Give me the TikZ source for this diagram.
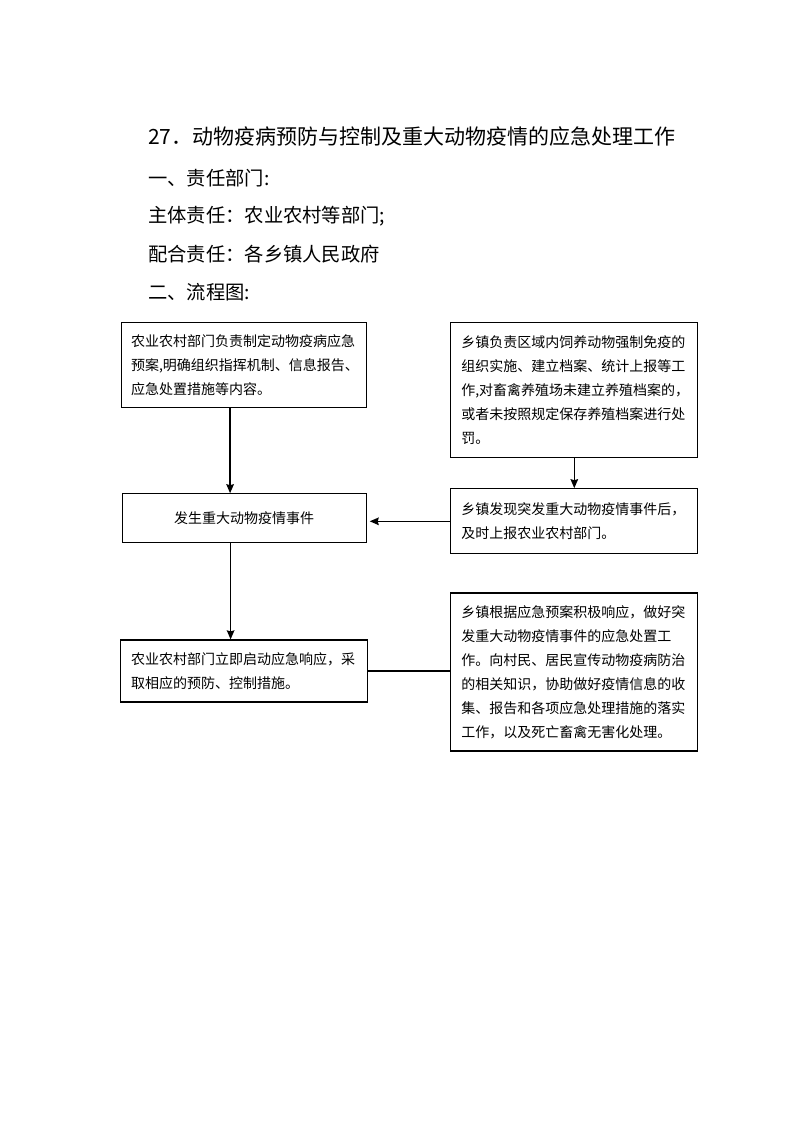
\documentclass[tikz,border=0pt]{standalone}
\usepackage{fontspec}
\newfontfamily\cjk{Noto Sans CJK SC}
\usetikzlibrary{positioning, arrows.meta}

\begin{document}
\begin{tikzpicture}[
    x=1pt, y=-1pt,
    >=Stealth,
    titletext/.style={
        anchor=west,
        inner sep=0pt,
        font=\cjk\fontsize{21}{24}\selectfont
    },
    heading/.style={
        anchor=west,
        inner sep=0pt,
        font=\cjk\fontsize{19.3}{23}\selectfont
    },
    stepbox/.style={
        draw,
        rectangle,
        line width=1.2pt,
        text width=226pt,
        inner xsep=9pt,
        align=left,
        font=\cjk\fontsize{14}{24}\selectfont
    },
    arrow/.style={-{Stealth[length=9pt, width=7.5pt, inset=1pt]}, line width=1.6pt},
    link/.style={line width=1.2pt}
]

\useasboundingbox (0,0) rectangle (794,1122);

% Title and responsibilities
\node[titletext] (title) at (148,137) {27．动物疫病预防与控制及重大动物疫情的应急处理工作};
\node[heading] (dept) at (148,178) {一、责任部门:};
\node[heading] (main) at (148,216) {主体责任：农业农村等部门;};
\node[heading] (assist) at (148,254) {配合责任：各乡镇人民政府};
\node[heading] (flow) at (148,292) {二、流程图:};

% Left column
\node[stepbox, minimum width=245pt, minimum height=85pt, anchor=north west] (plan) at (121,322) {%
    农业农村部门负责制定动物疫病应急\\
    预案,明确组织指挥机制、信息报告、\\
    应急处置措施等内容。
};

\node[stepbox, align=center, minimum width=244pt, minimum height=49pt, below=85pt of plan] (event) {%
    发生重大动物疫情事件
};

\node[stepbox, minimum width=247pt, minimum height=62pt, below=96pt of event] (respond) {%
    农业农村部门立即启动应急响应，采\\
    取相应的预防、控制措施。
};

% Right column
\node[stepbox, minimum width=247pt, minimum height=135pt, right=83pt of plan.north east, anchor=north west] (immune) {%
    乡镇负责区域内饲养动物强制免疫的\\
    组织实施、建立档案、统计上报等工\\
    作,对畜禽养殖场未建立养殖档案的，\\
    或者未按照规定保存养殖档案进行处\\
    罚。
};

\node[stepbox, minimum width=247pt, minimum height=65pt, below=30pt of immune] (report) {%
    乡镇发现突发重大动物疫情事件后，\\
    及时上报农业农村部门。
};

\node[stepbox, minimum width=247pt, minimum height=158pt, below=38pt of report] (town) {%
    乡镇根据应急预案积极响应，做好突\\
    发重大动物疫情事件的应急处置工\\
    作。向村民、居民宣传动物疫病防治\\
    的相关知识，协助做好疫情信息的收\\
    集、报告和各项应急处理措施的落实\\
    工作，以及死亡畜禽无害化处理。
};

% Connections
\draw[arrow] ([xshift=-14pt]plan.south) -- ([xshift=-14pt]plan.south |- event.north);
\draw[arrow] (immune.south) -- (report.north);
\draw[arrow] (report.west) -- ([xshift=3pt]report.west -| event.east);
\draw[arrow] ([xshift=-13.5pt]event.south) -- ([xshift=-13.5pt]event.south |- respond.north);
\draw[link] (respond.east) -- (respond.east -| town.west);

\end{tikzpicture}
\end{document}
